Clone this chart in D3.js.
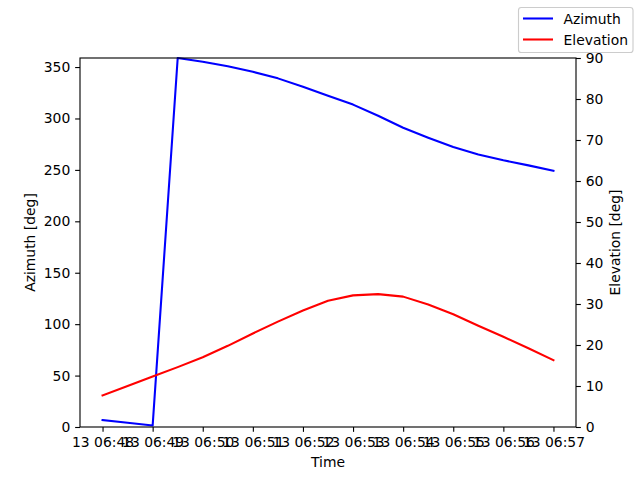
<!DOCTYPE html>
<html>
<head>
<meta charset="utf-8">
<script src="https://cdn.jsdelivr.net/npm/d3@7"></script>
<style>
	body { margin: 0; background: #fff; }
	svg { display: block; font-family: "DejaVu Sans", sans-serif; }
</style>
</head>
<body>
<div id="chartContainer"></div>
<script>
"use strict";

// sample times, every 30 s (day 13)
var times = [
	"06:48:00", "06:48:30", "06:49:00", "06:49:30", "06:50:00", "06:50:30",
	"06:51:00", "06:51:30", "06:52:00", "06:52:30", "06:53:00", "06:53:30",
	"06:54:00", "06:54:30", "06:55:00", "06:55:30", "06:56:00", "06:56:30",
	"06:57:00"
];

var azimuth = [
	6.7, 4.1, 1.4, 358.8, 355.2, 350.7, 345.4, 339.0, 330.9, 322.0,
	313.5, 302.7, 291.0, 281.3, 272.2, 265.0, 259.3, 254.4, 249.2
];

var elevation = [
	7.7, 10.0, 12.3, 14.6, 17.0, 19.8, 22.8, 25.7, 28.4, 30.8,
	32.1, 32.4, 31.8, 29.9, 27.5, 24.7, 22.0, 19.2, 16.3
];

var seriesNames = ["Azimuth", "Elevation"];
var seriesColours = ["#0000ff", "#ff0000"];

var azimuthTicks = [0, 50, 100, 150, 200, 250, 300, 350];
var elevationTicks = [0, 10, 20, 30, 40, 50, 60, 70, 80, 90];

const width = 640, height = 480;
const margin = {top: 58, right: 64, bottom: 53, left: 80};
const fontSize = 13.9;
const tickLen = 4.86;

let parseTime = d3.utcParse("%Y-%m-%d %H:%M:%S");
let data = times.map((t, i) => ({
	time: parseTime("2024-01-13 " + t),
	az: azimuth[i],
	el: elevation[i]
}));

// matplotlib-like 5% margin on the time axis
let tExtent = d3.extent(data, d => d.time);
let pad = (tExtent[1] - tExtent[0]) * 0.05;

let x = d3.scaleUtc()
	.domain([new Date(+tExtent[0] - pad), new Date(+tExtent[1] + pad)])
	.range([margin.left, width - margin.right]);

let yAz = d3.scaleLinear()
	.domain([0, d3.max(azimuth)])
	.range([height - margin.bottom, margin.top]);

let yEl = d3.scaleLinear()
	.domain([0, 90])
	.range([height - margin.bottom, margin.top]);

let svg = d3.select("#chartContainer")
	.append("svg")
	.attr("width", width)
	.attr("height", height);

function styleAxis(g) {
	g.selectAll(".domain").remove();
	g.selectAll(".tick line").attr("stroke", "#000").attr("stroke-width", 1.11);
	g.selectAll(".tick text")
		.attr("fill", "#000")
		.style("font-size", fontSize + "px")
		.style("font-family", "DejaVu Sans");
}

// x axis
svg.append("g")
	.attr("transform", `translate(0,${height - margin.bottom})`)
	.call(d3.axisBottom(x)
		.ticks(d3.utcMinute.every(1))
		.tickFormat(d3.utcFormat("%d %H:%M"))
		.tickSizeOuter(0)
		.tickSize(tickLen)
		.tickPadding(4.86))
	.call(styleAxis);

// left axis
svg.append("g")
	.attr("transform", `translate(${margin.left},0)`)
	.call(d3.axisLeft(yAz)
		.tickValues(azimuthTicks)
		.tickSize(tickLen)
		.tickPadding(4.86))
	.call(styleAxis);

// right axis
svg.append("g")
	.attr("transform", `translate(${width - margin.right},0)`)
	.call(d3.axisRight(yEl)
		.tickValues(elevationTicks)
		.tickSize(tickLen)
		.tickPadding(4.86))
	.call(styleAxis);

// lines
let clipId = "plotClip";
svg.append("clipPath")
	.attr("id", clipId)
	.append("rect")
	.attr("x", margin.left)
	.attr("y", margin.top - 2)
	.attr("width", width - margin.left - margin.right)
	.attr("height", height - margin.top - margin.bottom + 2);

let azLine = d3.line().x(d => x(d.time)).y(d => yAz(d.az));
let elLine = d3.line().x(d => x(d.time)).y(d => yEl(d.el));

svg.append("path")
	.datum(data)
	.attr("d", azLine)
	.attr("fill", "none")
	.attr("stroke", seriesColours[0])
	.attr("stroke-width", 2.08)
	.attr("stroke-linejoin", "round")
	.attr("stroke-linecap", "square")
	.attr("clip-path", `url(#${clipId})`);

svg.append("path")
	.datum(data)
	.attr("d", elLine)
	.attr("fill", "none")
	.attr("stroke", seriesColours[1])
	.attr("stroke-width", 2.08)
	.attr("stroke-linejoin", "round")
	.attr("stroke-linecap", "square")
	.attr("clip-path", `url(#${clipId})`);

// frame
svg.append("rect")
	.attr("x", margin.left)
	.attr("y", margin.top)
	.attr("width", width - margin.left - margin.right)
	.attr("height", height - margin.top - margin.bottom)
	.attr("fill", "none")
	.attr("stroke", "#000")
	.attr("stroke-width", 1.11);

// axis labels
svg.append("text")
	.attr("x", (margin.left + width - margin.right) / 2)
	.attr("y", 467)
	.attr("text-anchor", "middle")
	.style("font-size", fontSize + "px")
	.text("Time");

svg.append("text")
	.attr("transform", `translate(35,${(margin.top + height - margin.bottom) / 2}) rotate(-90)`)
	.attr("text-anchor", "middle")
	.style("font-size", fontSize + "px")
	.text("Azimuth [deg]");

svg.append("text")
	.attr("transform", `translate(620,${(margin.top + height - margin.bottom) / 2}) rotate(-90)`)
	.attr("text-anchor", "middle")
	.style("font-size", fontSize + "px")
	.text("Elevation [deg]");

// legend (figure upper right)
let legend = svg.append("g");
legend.append("rect")
	.attr("x", 518.5)
	.attr("y", 7.5)
	.attr("width", 114.5)
	.attr("height", 45)
	.attr("rx", 2.8)
	.attr("fill", "#fff")
	.attr("fill-opacity", 0.8)
	.attr("stroke", "#cccccc")
	.attr("stroke-width", 1.11);

seriesNames.forEach((name, i) => {
	let yy = 18.5 + i * 21;
	legend.append("line")
		.attr("x1", 523)
		.attr("x2", 553)
		.attr("y1", yy)
		.attr("y2", yy)
		.attr("stroke", seriesColours[i])
		.attr("stroke-width", 2.08);
	legend.append("text")
		.attr("x", 563.5)
		.attr("y", yy + 5)
		.style("font-size", fontSize + "px")
		.text(name);
});
</script>
</body>
</html>
